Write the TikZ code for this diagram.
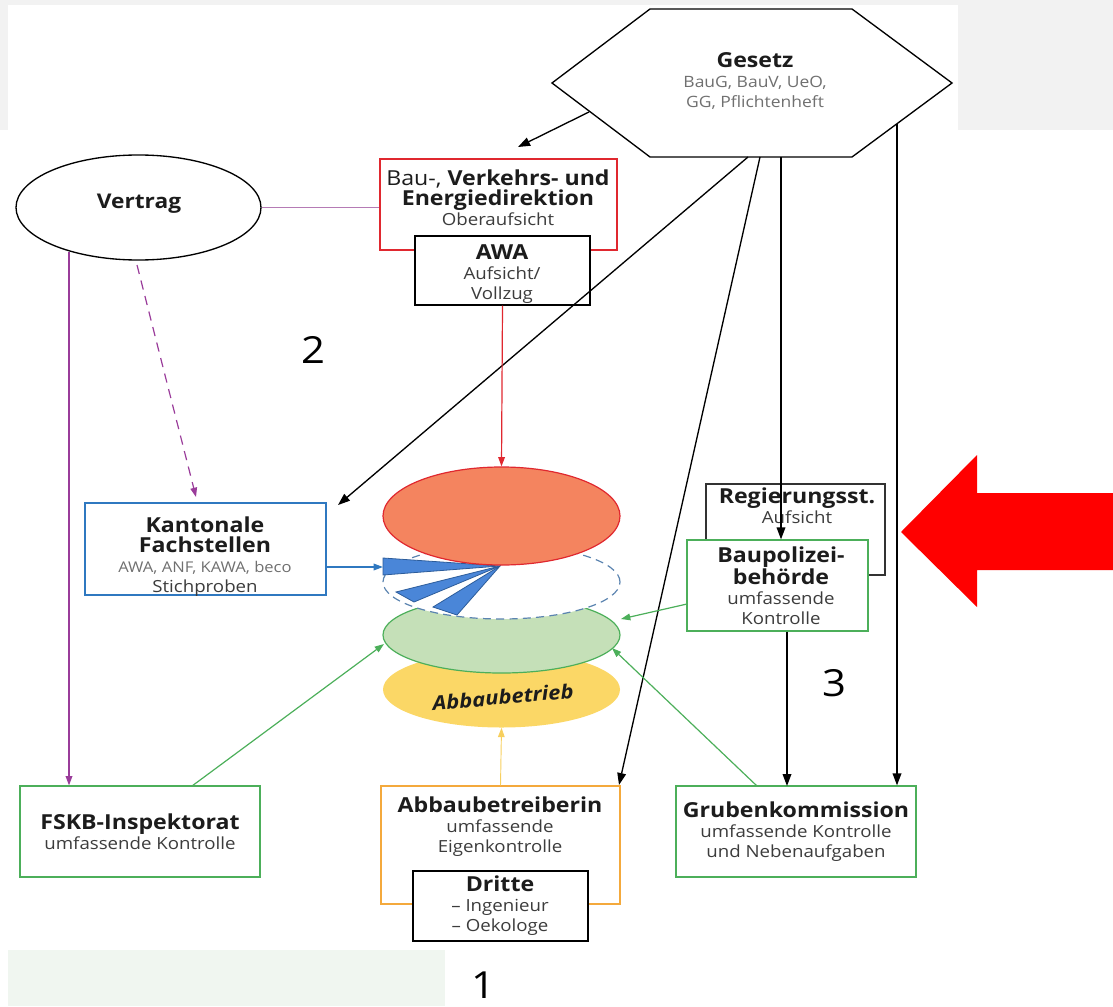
\documentclass[tikz,border=0pt]{standalone}
\usepackage{fontspec}
\setmainfont{Open Sans}[FakeStretch=1.12]
\usetikzlibrary{arrows.meta,shapes.geometric}
\definecolor{bgGray}{HTML}{F2F2F2}
\definecolor{bgGreen}{HTML}{F0F6F0}
\definecolor{cRed}{HTML}{E0282F}
\definecolor{cSalmon}{HTML}{F4845F}
\definecolor{cPurple}{HTML}{9A3C9A}
\definecolor{cPink}{HTML}{B57BB5}
\definecolor{cBlue}{HTML}{2F78C0}
\definecolor{cBlueFill}{HTML}{4A86D8}
\definecolor{cBlueEdge}{HTML}{2C5C9A}
\definecolor{cBlueDash}{HTML}{5B84B0}
\definecolor{cGreen}{HTML}{4CAF5A}
\definecolor{cGreenFill}{HTML}{C5E0B8}
\definecolor{cYellow}{HTML}{FBD766}
\definecolor{cYellowLine}{HTML}{F7CF5E}
\definecolor{cOrange}{HTML}{F4A93C}
\definecolor{cText}{HTML}{1C1C1C}
\definecolor{cSub}{HTML}{3C3C3C}
\definecolor{cSubLight}{HTML}{707070}
\newcommand\myTitle{\fontsize{15.5}{16}\selectfont\bfseries}
\newcommand\myTitleReg{\fontsize{15.5}{16}\selectfont}
\newcommand\mySub{\fontsize{12.5}{15}\selectfont}
\newcommand\mySmall{\fontsize{11.1}{15}\selectfont}
\begin{document}
\begin{tikzpicture}[x=0.75pt,y=-0.75pt,
  box/.style={draw, fill=white, line width=0.9pt, inner sep=0pt},
  txt/.style={align=center, inner sep=0pt, text=cSub, font=\mySub},
  blk/.style={draw=black, line width=1pt, -{Triangle[length=9pt,width=6.5pt]}},
  col/.style={line width=0.9pt, -{Triangle[length=7pt,width=5pt]}},
  ell/.style={ellipse, inner sep=0pt, minimum width=177.75pt},
  num/.style={inner sep=0pt, font=\fontsize{28}{30}\selectfont, text=black},
]
\useasboundingbox (0,0) rectangle (1113,1006);
% background
\fill[bgGray] (0,0) rectangle (1113,130);
\fill[white] (8,5) rectangle (958,130);
\fill[bgGreen] (8,950) rectangle (445,1006);

% hexagon Gesetz
\coordinate (h1) at (650,9);
\coordinate (h2) at (852,9);
\coordinate (h3) at (952,83);
\coordinate (h4) at (852,157);
\coordinate (h5) at (650,157);
\coordinate (h6) at (552,83);
\draw[line width=1pt, fill=white] (h1) -- (h2) -- (h3) -- (h4) -- (h5) -- (h6) -- cycle;
\node[txt, text=cSubLight, font=\fontsize{11.7}{15}\selectfont] (gesetz) at (755,81) {{\myTitle\color{cText}Gesetz}\\BauG, BauV, UeO,\\GG, Pflichtenheft};

% Vertrag
\node[ell, draw, line width=1pt, minimum width=183.75pt, minimum height=78.75pt] (vertrag) at (138.5,207.5) {};
\node[txt, text=cText, font=\fontsize{15.2}{16}\selectfont\bfseries] (vertragT) at (139,204) {Vertrag};

% Bau-, Verkehrs- und Energiedirektion / AWA
\node[box, draw=cRed, minimum width=177.75pt, minimum height=68.25pt] (bau) at (498.5,204.5) {};
\node[txt] (bauT) at (498,198) {{\myTitleReg\color{cText}Bau-, }{\myTitle\color{cText}Verkehrs- und}\\{\myTitle\color{cText}Energiedirektion}\\Oberaufsicht};
\node[box, draw=black, minimum width=131.25pt, minimum height=51.75pt] (awa) at (502.5,270.5) {};
\node[txt] (awaT) at (502,274) {{\myTitle\color{cText}AWA}\\Aufsicht/\\Vollzug};

% central ellipses
\node[ell, fill=cYellow, minimum height=57pt] (yellowE) at (501.5,689.5) {};
\node[ell, draw=cGreen, line width=0.9pt, fill=cGreenFill, minimum height=57pt] (greenE) at (501.5,635) {};
\node[ell, draw=cBlueDash, dashed, dash pattern=on 6pt off 4pt, line width=0.9pt, fill=white, minimum height=55.5pt] (dashE) at (501.5,582) {};
\fill[cBlueFill, draw=cBlueEdge, line width=0.6pt] (500,566) -- (383,558) -- (383,575) -- cycle;
\fill[cBlueFill, draw=cBlueEdge, line width=0.6pt] (500,566) -- (396,592) -- (414,602) -- cycle;
\fill[cBlueFill, draw=cBlueEdge, line width=0.6pt] (500,566) -- (433,607) -- (457,615) -- cycle;
\node[ell, draw=cRed, line width=0.9pt, fill=cSalmon, minimum height=73.5pt] (redE) at (501.5,516) {};
\node[inner sep=0pt, rotate=5, text=cText, font=\fontsize{14.7}{16}\selectfont\bfseries\itshape] (abbT) at (503,697) {Abbaubetrieb};

% Kantonale Fachstellen
\node[box, draw=cBlue, minimum width=180.75pt, minimum height=69pt] (kant) at (205.5,549) {};
\node[txt] (kantT) at (205,557) {{\myTitle\color{cText}Kantonale}\\{\myTitle\color{cText}Fachstellen}\\{\mySmall\color{cSubLight}AWA, ANF, KAWA, beco}\\Stichproben};

% Regierungsstatthalter / Baupolizeibehoerde
\node[box, draw=black!80, minimum width=134.25pt, minimum height=68.25pt] (regst) at (795.5,529.5) {};
\node[txt] (regstT) at (797,506) {{\myTitle\color{cText}Regierungsst.}\\Aufsicht};
\node[box, draw=cGreen, minimum width=135.75pt, minimum height=68.25pt] (baupol) at (777.5,585.5) {};
\node[txt] (baupolT) at (781,586) {{\myTitle\color{cText}Baupolizei-}\\{\myTitle\color{cText}behörde}\\umfassende\\Kontrolle};

% bottom boxes
\node[box, draw=cGreen, minimum width=180pt, minimum height=68.25pt] (fskb) at (140,831.5) {};
\node[txt] (fskbT) at (140,832) {{\myTitle\color{cText}FSKB-Inspektorat}\\umfassende Kontrolle};
\node[box, draw=cOrange, minimum width=179.25pt, minimum height=88.5pt] (abbau) at (500.5,845) {};
\node[txt] (abbauT) at (500,827) {{\myTitle\color{cText}Abbaubetreiberin}\\umfassende\\Eigenkontrolle};
\node[box, draw=black, minimum width=131.25pt, minimum height=52.5pt] (dritte) at (500.5,906) {};
\node[txt] (dritteT) at (500,906) {{\myTitle\color{cText}Dritte}\\– Ingenieur\\– Oekologe};
\node[box, draw=cGreen, minimum width=180pt, minimum height=68.25pt] (gruben) at (796,831.5) {};
\node[txt] (grubenT) at (796,832) {{\myTitle\color{cText}Grubenkommission}\\umfassende Kontrolle\\und Nebenaufgaben};

% numbers
\node[num] (n1) at (483,985) {1};
\node[num] (n2) at (313,350) {2};
\node[num] (n3) at (834,683) {3};

% red arrow
\fill[red] (901,532) -- (977,455) -- (977,493) -- (1113,493) -- (1113,570) -- (977,570) -- (977,607) -- cycle;

% connector end points
\coordinate (hBau) at (589,112);
\coordinate (bauTip) at (518,147);
\coordinate (hKant) at (748,157);
\coordinate (kantTip) at (338,505);
\coordinate (hAbb) at (760,157);
\coordinate (abbTip) at (619,785);
\coordinate (hPol) at (781,157);
\coordinate (hGrub) at (897,124);
\coordinate (vertA) at (69,252);
\coordinate (vertB) at (137,265);
\coordinate (kantDash) at (196,497);
\coordinate (kantOut) at (326,567);
\coordinate (dashIn) at (383,567);
\coordinate (fskbOut) at (192,786);
\coordinate (greenL) at (384,644);
\coordinate (polOut) at (687,604);
\coordinate (greenR) at (621,619);
\coordinate (grubOut) at (757,786);
\coordinate (greenBR) at (612,648);

% connectors
\draw[cPink, line width=0.8pt] (vertrag.east) -- (bau.west |- vertrag.east);
\draw[blk] (hBau) -- (bauTip);
\draw[blk] (hKant) -- (kantTip);
\draw[blk] (hAbb) -- (abbTip);
\draw[blk] (hPol) -- (hPol |- baupol.north);
\draw[blk] (baupol.south -| 787,0) -- (787,786);
\draw[blk] (hGrub) -- (hGrub |- gruben.north);
\draw[col, cRed] (awa.south) -- (redE.north);
\draw[col, cPurple] (vertA) -- (vertA |- fskb.north);
\draw[col, cPurple, dashed, dash pattern=on 7pt off 5pt] (vertB) -- (kantDash);
\draw[col, cBlue] (kantOut) -- (dashIn);
\draw[col, cGreen] (fskbOut) -- (greenL);
\draw[col, cGreen] (polOut) -- (greenR);
\draw[col, cGreen] (grubOut) -- (greenBR);
\draw[col, cYellowLine, line width=0.7pt] (abbau.north) -- (yellowE.south);
\end{tikzpicture}
\end{document}
